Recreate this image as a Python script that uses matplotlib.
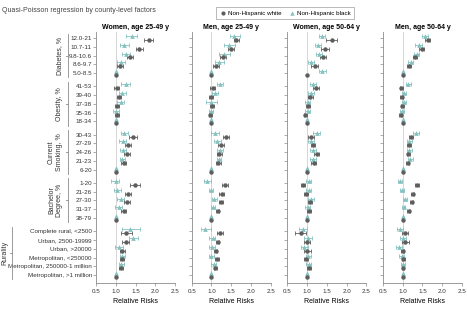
import numpy as np
import matplotlib
matplotlib.use('Agg')
import matplotlib.pyplot as plt
from matplotlib.lines import Line2D
from matplotlib.transforms import blended_transform_factory

plt.rcParams['font.family'] = ['Liberation Sans Narrow', 'Liberation Sans', 'DejaVu Sans']

nan = np.nan

row_labels = ['12.0-21', '10.7-11', '9.8-10.6', '8.6-9.7', '5.0-8.5',
              '41-53', '39-40', '37-38', '35-36', '18-34',
              '30-43', '27-29', '24-26', '21-23', '6-20',
              '1-20', '21-26', '27-30', '31-37', '38-79',
              'Complete rural, <2500', 'Urban, 2500-19999', 'Urban, >20000',
              'Metropolitan, <250000', 'Metropolitan, 250000-1 million',
              'Metropolitan, >1 million']
group_names = ['Diabetes, %', 'Obesity, %', 'Current\nSmoking, %',
               'Bachelor\nDegree, %', 'Rurality']
group_sizes = [5, 5, 5, 5, 6]
panel_titles = ['Women, age 25-49 y', 'Men, age 25-49 y',
                'Women, age 50-64 y', 'Men, age 50-64 y']
x_ticks = [0.5, 1.0, 1.5, 2.0, 2.5]

# ---- Women 25-49
w25_white = [1.84, 1.59, 1.36, 1.10, 1.0, 1.02, 1.07, 1.03, 1.03, 1.0,
             1.44, 1.31, 1.28, 1.20, 1.0, 1.48, 1.31, 1.29, 1.20, 1.0,
             1.27, 1.25, 1.17, 1.15, 1.14, 1.0]
w25_white_lo = [1.72, 1.50, 1.29, 1.03, nan, 0.95, 1.02, 0.97, 0.97, nan,
                1.34, 1.23, 1.21, 1.14, nan, 1.37, 1.23, 1.21, 1.13, nan,
                1.13, 1.17, 1.11, 1.10, 1.09, nan]
w25_white_hi = [1.94, 1.69, 1.43, 1.19, nan, 1.08, 1.14, 1.09, 1.09, nan,
                1.54, 1.39, 1.35, 1.26, nan, 1.61, 1.39, 1.37, 1.26, nan,
                1.40, 1.34, 1.23, 1.20, 1.19, nan]
w25_black = [1.40, 1.21, 1.25, 1.13, 1.0, 1.25, 1.17, 1.12, 1.00, 1.0,
             1.21, 1.18, 1.19, 1.17, 1.0, 1.00, 1.04, 1.13, 1.07, 1.0,
             1.37, 1.44, 1.08, 1.17, 1.14, 1.0]
w25_black_lo = [1.25, 1.11, 1.15, 1.03, nan, 1.13, 1.08, 1.04, 0.93, nan,
                1.12, 1.08, 1.11, 1.10, nan, 0.88, 0.96, 1.04, 0.99, nan,
                1.16, 1.34, 0.98, 1.10, 1.08, nan]
w25_black_hi = [1.54, 1.33, 1.36, 1.23, nan, 1.37, 1.25, 1.20, 1.07, nan,
                1.31, 1.27, 1.27, 1.24, nan, 1.08, 1.12, 1.22, 1.15, nan,
                1.61, 1.56, 1.18, 1.24, 1.20, nan]

# ---- Men 25-49
m25_white = [1.62, 1.49, 1.29, 1.12, 1.0, 1.03, 1.00, 1.02, 0.97, 1.0,
             1.37, 1.24, 1.20, 1.17, 1.0, 1.35, 1.26, 1.25, 1.16, 1.0,
             1.22, 1.16, 1.11, 1.14, 1.10, 1.0]
m25_white_lo = [1.56, 1.43, 1.22, 1.05, nan, 0.97, 0.95, 0.97, 0.93, nan,
                1.30, 1.17, 1.14, 1.11, nan, 1.28, 1.20, 1.20, 1.12, nan,
                1.15, 1.12, 1.07, 1.10, 1.07, nan]
m25_white_hi = [1.69, 1.56, 1.36, 1.18, nan, 1.09, 1.05, 1.07, 1.02, nan,
                1.44, 1.31, 1.26, 1.23, nan, 1.42, 1.32, 1.30, 1.20, nan,
                1.29, 1.20, 1.15, 1.18, 1.13, nan]
m25_black = [1.58, 1.45, 1.32, 1.19, 1.0, 1.22, 1.09, 1.00, 0.99, 1.0,
             1.08, 1.15, 1.22, 1.19, 1.0, 0.90, 0.98, 1.07, 1.03, 1.0,
             0.83, 1.03, 1.02, 1.00, 1.06, 1.0]
m25_black_lo = [1.46, 1.32, 1.20, 1.08, nan, 1.14, 1.02, 0.87, 0.93, nan,
                1.00, 1.07, 1.15, 1.13, nan, 0.82, 0.93, 1.01, 0.98, nan,
                0.73, 0.95, 0.93, 0.93, 1.00, nan]
m25_black_hi = [1.73, 1.60, 1.46, 1.32, nan, 1.30, 1.17, 1.13, 1.05, nan,
                1.18, 1.25, 1.29, 1.25, nan, 0.98, 1.05, 1.14, 1.10, nan,
                1.00, 1.10, 1.10, 1.07, 1.12, nan]

# ---- Women 50-64
w50_white = [1.62, 1.45, 1.41, 1.19, 1.0, 1.23, 1.08, 1.02, 0.96, 1.0,
             1.10, 1.15, 1.24, 1.17, 1.0, 0.89, 0.97, 1.07, 1.04, 1.0,
             0.84, 1.00, 1.00, 0.97, 1.04, 1.0]
w50_white_lo = [1.49, 1.36, 1.32, 1.11, nan, 1.16, 1.02, 0.97, 0.91, nan,
                1.03, 1.09, 1.17, 1.11, nan, 0.84, 0.92, 1.02, 0.99, nan,
                0.70, 0.92, 0.92, 0.92, 0.99, nan]
w50_white_hi = [1.76, 1.55, 1.49, 1.28, nan, 1.30, 1.14, 1.07, 1.01, nan,
                1.17, 1.21, 1.31, 1.23, nan, 0.95, 1.02, 1.12, 1.09, nan,
                0.98, 1.08, 1.10, 1.02, 1.09, nan]
w50_black = [1.38, 1.27, 1.30, 1.10, 1.38, 1.15, 1.10, 1.02, 1.02, 1.0,
             1.24, 1.10, 1.15, 1.15, 1.0, 1.04, 1.04, 1.10, 1.02, 1.0,
             0.90, 1.02, 0.92, 1.03, 1.04, 1.0]
w50_black_lo = [1.30, 1.19, 1.22, 1.03, 1.30, 1.08, 1.03, 0.96, 0.96, nan,
                1.16, 1.03, 1.08, 1.08, nan, 0.97, 0.98, 1.03, 0.96, nan,
                0.80, 0.92, 0.84, 0.97, 0.98, nan]
w50_black_hi = [1.46, 1.34, 1.37, 1.18, 1.47, 1.22, 1.17, 1.08, 1.08, nan,
                1.32, 1.17, 1.22, 1.22, nan, 1.11, 1.10, 1.17, 1.08, nan,
                1.00, 1.12, 1.02, 1.09, 1.10, nan]

# ---- Men 50-64
m50_white = [1.63, 1.48, 1.31, 1.15, 1.0, 0.96, 0.97, 0.99, 0.95, 1.0,
             1.20, 1.17, 1.14, 1.13, 1.0, 1.37, 1.25, 1.23, 1.15, 1.0,
             1.06, 1.06, 1.00, 1.01, 1.00, 1.0]
m50_white_lo = [1.57, 1.42, 1.26, 1.10, nan, 0.92, 0.93, 0.95, 0.91, nan,
                1.15, 1.12, 1.10, 1.09, nan, 1.32, 1.21, 1.19, 1.11, nan,
                0.98, 0.98, 0.96, 0.97, 0.97, nan]
m50_white_hi = [1.70, 1.54, 1.36, 1.20, nan, 1.00, 1.01, 1.03, 0.99, nan,
                1.25, 1.22, 1.18, 1.17, nan, 1.42, 1.29, 1.27, 1.19, nan,
                1.14, 1.15, 1.04, 1.05, 1.03, nan]
m50_black = [1.57, 1.40, 1.35, 1.20, 1.0, 1.14, 1.03, 1.03, 0.99, 1.0,
             1.34, 1.17, 1.17, 1.19, 1.0, 0.93, 0.97, 1.06, 1.02, 1.0,
             0.93, 1.00, 0.90, 0.97, 1.00, 1.0]
m50_black_lo = [1.49, 1.32, 1.28, 1.13, nan, 1.08, 0.98, 0.98, 0.94, nan,
                1.26, 1.11, 1.11, 1.13, nan, 0.88, 0.92, 1.01, 0.97, nan,
                0.85, 0.92, 0.83, 0.91, 0.95, nan]
m50_black_hi = [1.65, 1.48, 1.42, 1.27, nan, 1.20, 1.08, 1.08, 1.04, nan,
                1.42, 1.23, 1.23, 1.25, nan, 0.98, 1.02, 1.11, 1.07, nan,
                1.01, 1.08, 0.97, 1.03, 1.05, nan]

panels = [
    (w25_white, w25_white_lo, w25_white_hi, w25_black, w25_black_lo, w25_black_hi),
    (m25_white, m25_white_lo, m25_white_hi, m25_black, m25_black_lo, m25_black_hi),
    (w50_white, w50_white_lo, w50_white_hi, w50_black, w50_black_lo, w50_black_hi),
    (m50_white, m50_white_lo, m50_white_hi, m50_black, m50_black_lo, m50_black_hi),
]

white_col = '#5e5e5e'
black_col = '#85c2c0'
spine_col = '#8a8a8a'
W, H = 467, 310


def row_positions():
    pos = []
    y = 0.0
    for size in group_sizes:
        for i in range(size):
            pos.append(y)
            y += 1
        y += 0.5
    return np.array(pos)


def draw_series(ax, y, est, lo, hi, color, marker, ms):
    est = np.array(est)
    lo = np.array(lo)
    hi = np.array(hi)
    ok = ~np.isnan(lo)
    ax.errorbar(est[ok], y[ok], xerr=[est[ok] - lo[ok], hi[ok] - est[ok]],
                fmt='none', ecolor=color, elinewidth=0.6, capsize=1.3,
                capthick=0.6, zorder=3)
    ax.plot(est, y, linestyle='none', marker=marker, markersize=ms,
            color=color, markeredgewidth=0, zorder=4)


def main():
    fig, axs = plt.subplots(nrows=1, ncols=4, figsize=(W / 100, H / 100), dpi=100,
                            sharey=True)
    plt.subplots_adjust(left=96 / W, right=462 / W, top=1 - 32 / H,
                        bottom=1 - 283 / H, wspace=0.21)
    ypos = row_positions()

    for k, ax in enumerate(axs):
        wv, wlo, whi, bv, blo, bhi = panels[k]
        ax.axvline(1.0, color='#cfcfcf', linewidth=0.6, zorder=1)
        draw_series(ax, ypos - 0.22, bv, blo, bhi, black_col, '^', 3.4)
        draw_series(ax, ypos + 0.22, wv, wlo, whi, white_col, 'o', 3.2)

        ax.set_xlim(0.5, 2.5)
        ax.set_xticks(x_ticks)
        ax.set_xticklabels([f'{t:.1f}' for t in x_ticks])
        ax.set_ylim(27.9, -0.68)
        ax.set_yticks(ypos)
        ax.set_title(panel_titles[k], fontsize=5, fontweight='bold', pad=2.5)
        ax.set_xlabel('Relative Risks', fontsize=5, labelpad=3)
        for s in ['top', 'right']:
            ax.spines[s].set_visible(False)
        for s in ['left', 'bottom']:
            ax.spines[s].set_color(spine_col)
            ax.spines[s].set_linewidth(0.6)
        ax.tick_params(axis='both', labelsize=4.5, length=2, width=0.5,
                       pad=1, colors='#333333')
        ax.tick_params(axis='x', pad=2.5)
        ax.tick_params(axis='both', color=spine_col)

    axs[0].set_yticklabels(row_labels)
    for ax in axs[1:]:
        ax.tick_params(axis='y', labelleft=False)

    # group brackets on the left
    tr = blended_transform_factory(fig.transFigure, axs[0].transData)
    start = 0
    for name, size in zip(group_names, group_sizes):
        top = ypos[start] - 0.5
        bot = ypos[start + size - 1] + 0.5
        mid = (top + bot) / 2
        if name == 'Rurality':
            lx, tx = 12 / W, 10 / W
        else:
            lx, tx = 68 / W, 65 / W
        axs[0].plot([lx, lx], [top, bot], color=spine_col, linewidth=0.6,
                    transform=tr, clip_on=False)
        axs[0].plot([lx - 2 / W, lx], [mid, mid], color=spine_col,
                    linewidth=0.6, transform=tr, clip_on=False)
        axs[0].text(tx - 2 / W, mid, name, rotation=90, ha='right',
                    va='center', fontsize=5, color='#333333',
                    multialignment='center', transform=tr)
        start += size

    fig.text(2 / W, 1 - 10 / H, 'Quasi-Poisson regression by county-level factors',
             fontsize=5, color='#444444', va='center', ha='left')

    handles = [Line2D([], [], linestyle='none', marker='o', markersize=3,
                      color=white_col, markeredgewidth=0),
               Line2D([], [], linestyle='none', marker='^', markersize=3.2,
                      color=black_col, markeredgewidth=0)]
    leg = fig.legend(handles, ['Non-Hispanic white', 'Non-Hispanic black'],
                     loc='center', bbox_to_anchor=(285 / W, 1 - 13 / H), ncol=2,
                     fontsize=4.5, frameon=True, fancybox=False,
                     handlelength=1, handletextpad=0.3, columnspacing=1.2,
                     borderpad=0.5)
    leg.get_frame().set_edgecolor('#9a9a9a')
    leg.get_frame().set_linewidth(0.6)

    fig.savefig('out.png', dpi=100)


if __name__ == '__main__':
    main()
